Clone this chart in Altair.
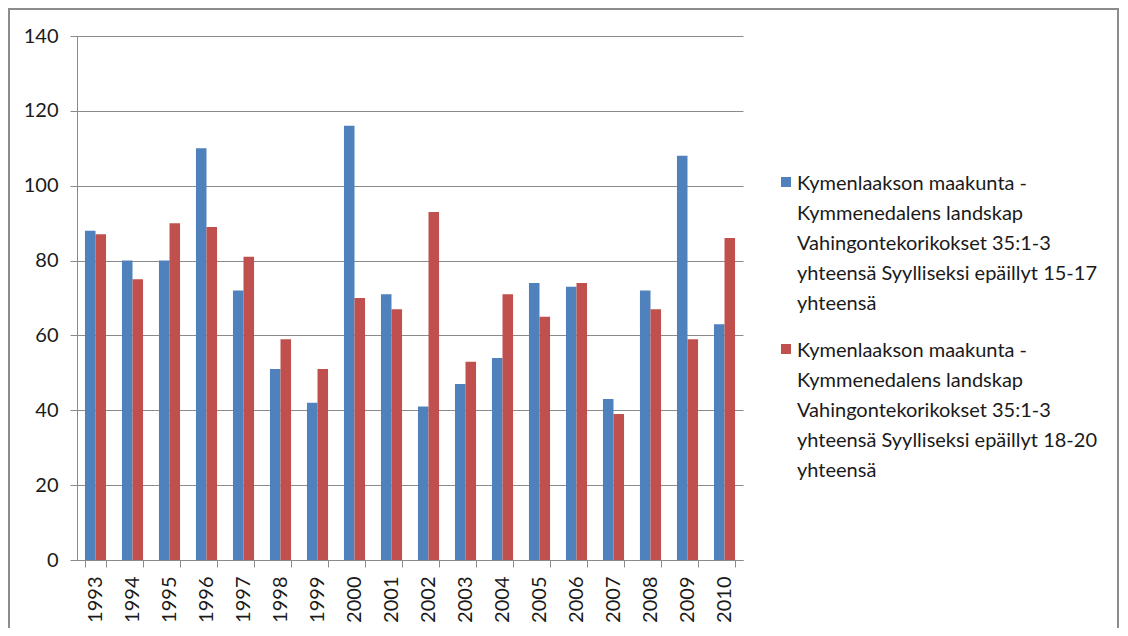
import textwrap
import altair as alt
import pandas as pd

years = ["1993", "1994", "1995", "1996", "1997", "1998", "1999", "2000", "2001",
         "2002", "2003", "2004", "2005", "2006", "2007", "2008", "2009", "2010"]
series_names = [
    "Kymenlaakson maakunta - Kymmenedalens landskap Vahingontekorikokset 35:1-3 yhteensä Syylliseksi epäillyt 15-17 yhteensä",
    "Kymenlaakson maakunta - Kymmenedalens landskap Vahingontekorikokset 35:1-3 yhteensä Syylliseksi epäillyt 18-20 yhteensä",
]
values_15_17 = [88, 80, 80, 110, 72, 51, 42, 116, 71, 41, 47, 54, 74, 73, 43, 72, 108, 63]
values_18_20 = [87, 75, 90, 89, 81, 59, 51, 70, 67, 93, 53, 71, 65, 74, 39, 67, 59, 86]
y_ticks = [0, 20, 40, 60, 80, 100, 120, 140]
colors = ["#4F81BD", "#C0504D"]

FONT = "Lato"
GREY = "#8a8a8a"

rows = []
for s, vals in zip(series_names, [values_15_17, values_18_20]):
    for y, v in zip(years, vals):
        rows.append({"year": y, "series": s, "value": v})
df = pd.DataFrame(rows)

legend_df = pd.DataFrame({
    "series": series_names,
    "order": list(range(len(series_names))),
    "label": ["|".join(textwrap.wrap(s, 35, break_on_hyphens=False)) for s in series_names],
})

color = alt.Color("series:N", scale=alt.Scale(domain=series_names, range=colors), legend=None)

bars = alt.Chart(df).mark_bar().encode(
    x=alt.X("year:N", sort=years,
            scale=alt.Scale(paddingInner=0.43, paddingOuter=0.215),
            axis=alt.Axis(title=None, labelAngle=-90, labelAlign="right", labelBaseline="middle",
                          tickBand="extent", tickSize=7, labelPadding=9, domainColor=GREY,
                          tickColor=GREY, labelFont=FONT, labelFontSize=20, labelColor="#1a1a1a",
                          grid=False)),
    xOffset=alt.XOffset("series:N", sort=series_names),
    y=alt.Y("value:Q", scale=alt.Scale(domain=[0, 140], nice=False),
            axis=alt.Axis(title=None, values=y_ticks, tickSize=7, labelPadding=12,
                          domainColor=GREY, tickColor=GREY, gridColor=GREY, grid=True,
                          labelFont=FONT, labelFontSize=20, labelColor="#1a1a1a")),
    color=color,
)

leg_y = alt.Y("order:O", axis=None,
              scale=alt.Scale(type="point", range=[146, 313], padding=0))

leg_sq = alt.Chart(legend_df).mark_square(size=100, opacity=1).encode(
    x=alt.value(709), y=leg_y, color=color,
)
leg_txt = alt.Chart(legend_df).mark_text(
    align="left", baseline="alphabetic", lineBreak="|", lineHeight=30,
    font=FONT, fontSize=20, color="#1a1a1a", dy=8,
).encode(x=alt.value(720), y=leg_y, text="label:N")

frame = alt.Chart(pd.DataFrame({"a": [0]})).mark_rect(
    fill="white", fillOpacity=0, stroke="#8c8c8c", strokeWidth=2
).encode(x=alt.value(-68), x2=alt.value(1041), y=alt.value(-27), y2=alt.value(640))

chart = alt.layer(frame, bars, leg_sq, leg_txt).resolve_scale(y="independent").properties(
    width=666, height=524,
    autosize=alt.AutoSizeParams(type="none"),
    padding={"left": 69, "top": 28, "right": 377, "bottom": 68},
).configure_view(stroke=None)

chart.save("out.html", embed_options={"renderer": "svg", "actions": False})
